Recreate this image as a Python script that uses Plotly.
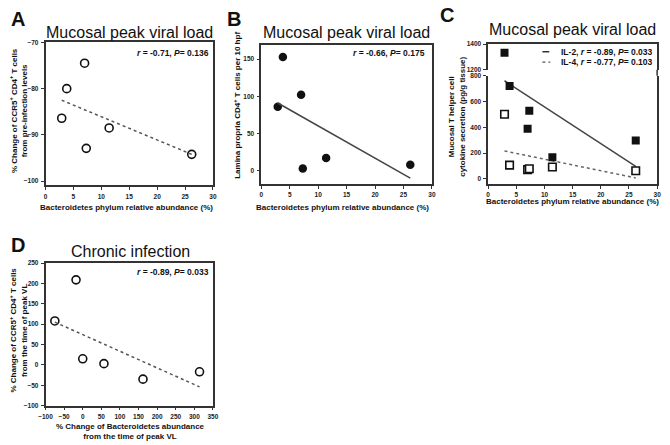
import plotly.graph_objects as go

# ---------------- data ----------------
bact = [2.9, 3.8, 7.0, 7.3, 11.4, 26.2]          # Bacteroidetes relative abundance (%)
ccr5_change = [-86.4, -80.0, -74.5, -92.9, -88.5, -94.2]
lp_cd4 = [86, 153, 102, 3, 17, 8]
il2 = [1332, 721, 390, 530, 168, 298]
il4 = [502, 107, 72, 79, 92, 64]
trend_x = [2.9, 26.2]
trend_a = [-82.5, -94.2]
trend_b = [91, -10]
trend_il2 = [762, 97]
trend_il4 = [217, 8]

d_bact_change = [-75, -18, 0, 57, 162, 314]
d_ccr5_change = [108, 209, 15, 3, -35, -17]
trend_d_x = [-75, 314]
trend_d_y = [105, -54]

ticks_a_x = [0, 5, 10, 15, 20, 25, 30]
ticks_a_y = [-70, -80, -90, -100]
ticks_b_y = [0, 50, 100, 150]
ticks_c_low = [0, 200, 400, 600, 800]
ticks_c_up = [1200, 1400]
ticks_d_x = [-100, -50, 0, 50, 100, 150, 200, 250, 300, 350]
ticks_d_y = [-100, -50, 0, 50, 100, 150, 200, 250]

W, H = 670, 445
FONT = "Liberation Sans, Arial, sans-serif"
AX = "#333333"
INK = "#111111"

def px(x):
    return x / W

def py(y):
    return 1 - y / H

fig = go.Figure()

open_circle = dict(symbol="circle-open", size=8, color=INK, line=dict(width=1.6, color=INK))

# A
fig.add_trace(go.Scatter(x=bact, y=ccr5_change, mode="markers", marker=open_circle,
                         xaxis="x", yaxis="y", showlegend=False))
fig.add_trace(go.Scatter(x=trend_x, y=trend_a, mode="lines",
                         line=dict(color="#555", width=1.5, dash="dot"),
                         xaxis="x", yaxis="y", showlegend=False))
# B
fig.add_trace(go.Scatter(x=bact, y=lp_cd4, mode="markers",
                         marker=dict(symbol="circle", size=8.5, color=INK),
                         xaxis="x2", yaxis="y2", showlegend=False))
fig.add_trace(go.Scatter(x=trend_x, y=trend_b, mode="lines",
                         line=dict(color="#444", width=1.5),
                         xaxis="x2", yaxis="y2", showlegend=False))
# C (broken axis: lower y3, upper y4)
fig.add_trace(go.Scatter(x=trend_x, y=trend_il2, mode="lines",
                         line=dict(color="#444", width=1.5),
                         xaxis="x3", yaxis="y3", showlegend=False))
fig.add_trace(go.Scatter(x=trend_x, y=trend_il4, mode="lines",
                         line=dict(color="#666", width=1.5, dash="dot"),
                         xaxis="x3", yaxis="y3", showlegend=False))
fig.add_trace(go.Scatter(x=bact, y=il2, mode="markers",
                         marker=dict(symbol="square", size=8, color=INK),
                         xaxis="x3", yaxis="y3", showlegend=False, cliponaxis=True))
fig.add_trace(go.Scatter(x=bact, y=il2, mode="markers",
                         marker=dict(symbol="square", size=8, color=INK),
                         xaxis="x4", yaxis="y4", showlegend=False, cliponaxis=True))
fig.add_trace(go.Scatter(x=bact, y=il4, mode="markers",
                         marker=dict(symbol="square", size=7.5, color="white",
                                     line=dict(width=1.6, color=INK)),
                         xaxis="x3", yaxis="y3", showlegend=False))
# D
fig.add_trace(go.Scatter(x=d_bact_change, y=d_ccr5_change, mode="markers", marker=open_circle,
                         xaxis="x5", yaxis="y5", showlegend=False))
fig.add_trace(go.Scatter(x=trend_d_x, y=trend_d_y, mode="lines",
                         line=dict(color="#555", width=1.5, dash="dot"),
                         xaxis="x5", yaxis="y5", showlegend=False))

tickfont = dict(family=FONT, size=6.5, color="#222", weight="bold")

def axis(domain, rng, tickvals, anchor, mirror=True, **kw):
    d = dict(domain=domain, range=rng, tickvals=tickvals, anchor=anchor,
             showline=True, linecolor=AX, linewidth=1.5, mirror=mirror,
             ticks="outside", ticklen=3, tickwidth=1.2, tickcolor=AX,
             showgrid=False, zeroline=False, tickfont=tickfont, ticklabelstandoff=1)
    d.update(kw)
    return d

A_x = [px(39.3), px(210)]
A_y = [py(184), py(39)]
B_x = [px(259.3), px(433.3)]
B_y = [py(182.7), py(41.7)]
C_x = [px(490.7), px(663)]
C_ylow = [py(182.7), py(73)]
C_yup = [py(66.7), py(40.7)]
D_x = [px(39.3), px(210)]
D_y = [py(408), py(263.3)]

fig.update_layout(
    width=W, height=H, margin=dict(l=0, r=0, t=0, b=0),
    paper_bgcolor="white", plot_bgcolor="white",
    font=dict(family=FONT, color=INK),
    xaxis=axis(A_x, [0, 30], ticks_a_x, "y"),
    yaxis=axis(A_y, [-100.85, -70], ticks_a_y, "x"),
    xaxis2=axis(B_x, [0, 30], ticks_a_x, "y2"),
    yaxis2=axis(B_y, [-17.7, 169], ticks_b_y, "x2"),
    xaxis3=axis(C_x, [0, 30], ticks_a_x, "y3", mirror=False),
    yaxis3=axis(C_ylow, [-38, 800], ticks_c_low, "x3"),
    xaxis4=axis(C_x, [0, 30], [0, 30], "y4", mirror=False, side="top", ticks="",
                showticklabels=False),
    yaxis4=axis(C_yup, [1200, 1400], ticks_c_up, "x4"),
    xaxis5=axis(D_x, [-100, 350], ticks_d_x, "y5"),
    yaxis5=axis(D_y, [-100, 250], ticks_d_y, "x5"),
)

# continuous right border for panel C across the break
fig.add_shape(type="line", xref="paper", yref="paper",
              x0=C_x[1], x1=C_x[1], y0=C_ylow[1], y1=C_yup[0],
              line=dict(color=AX, width=1.5))

ann = []

def text(x, y, s, size=8, bold=True, angle=0, xanchor="center", yanchor="middle", align="center"):
    ann.append(dict(x=px(x), y=py(y), xref="paper", yref="paper", text=(f"<b>{s}</b>" if bold else s),
                    showarrow=False, font=dict(family=FONT, size=size, color=INK),
                    textangle=angle, xanchor=xanchor, yanchor=yanchor, align=align))

# panel letters
text(2, 15, "A", size=20, xanchor="left")
text(222, 15, "B", size=20, xanchor="left")
text(440, 11, "C", size=20, xanchor="left")
text(2, 245, "D", size=20, xanchor="left")

# titles
text(124.7, 28.5, "Mucosal peak viral load", size=16, bold=False)
text(346, 28.5, "Mucosal peak viral load", size=16, bold=False)
text(577, 26, "Mucosal peak viral load", size=16, bold=False)
text(125.5, 251, "Chronic infection", size=16, bold=False)

# stats
text(208, 49.5, "<i>r</i> = -0.71, <i>P</i>= 0.136", size=8.5, xanchor="right")
text(428, 49.5, "<i>r</i> = -0.66, <i>P</i>= 0.175", size=8.5, xanchor="right")
text(208, 272, "<i>r</i> = -0.89, <i>P</i>= 0.033", size=8.5, xanchor="right")
text(660, 48.5, "IL-2, <i>r</i> = -0.89, <i>P</i>= 0.033", size=8.5, xanchor="right")
text(660, 59, "IL-4, <i>r</i> = -0.77, <i>P</i>= 0.103", size=8.5, xanchor="right")
fig.add_shape(type="line", xref="paper", yref="paper", x0=px(546), x1=px(553),
              y0=py(48.5), y1=py(48.5), line=dict(color="#333", width=1.5))
fig.add_shape(type="line", xref="paper", yref="paper", x0=px(546), x1=px(554),
              y0=py(59), y1=py(59), line=dict(color="#555", width=1.3, dash="dot"))

# x-axis titles
xt = "Bacteroidetes phylum relative abundance (%)"
text(122, 207, xt)
text(342, 207, xt)
text(577, 201, xt)
text(126, 434.5, "% Change of Bacteroidetes abundance<br>from the time of peak VL")

# y-axis titles
text(12, 108, "% Change of CCR5<sup>+</sup> CD4<sup>+</sup> T cells<br>from pre-infection levels", angle=-90)
text(235, 103, "Lamina propria CD4<sup>+</sup> T cells per 10 hpf", angle=-90)
text(458.5, 115, "Mucosal T helper cell<br>cytokine secretion (pg/g tissue)", angle=-90)
text(12, 331, "% Change of CCR5<sup>+</sup> CD4<sup>+</sup> T cells<br>from the time of peak VL", angle=-90)

fig.update_layout(annotations=ann)
fig.write_html("out.html", config={"displayModeBar": False},
               post_script="document.body.style.margin='0';document.body.style.overflow='hidden';")
